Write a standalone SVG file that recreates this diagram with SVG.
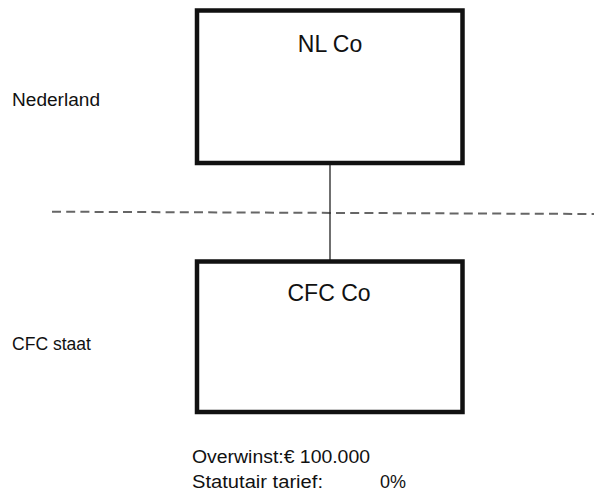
<svg xmlns="http://www.w3.org/2000/svg" width="597" height="493" viewBox="0 0 597 493">
<style>
.box{fill:#fff;stroke:#111;stroke-width:4.5}
.t{font-family:"Liberation Sans",Arial,sans-serif;fill:#111}
.title{font-size:23px;text-anchor:middle}
.lbl{font-size:17.5px}
</style>
<rect width="597" height="493" fill="#fff"/>
<line x1="52" y1="211.7" x2="594" y2="214" stroke="#666" stroke-width="2" stroke-dasharray="9,5.2"/>
<g id="connectors">
<line x1="330" y1="165" x2="330" y2="260" stroke="#222" stroke-width="1.3"/>
</g>
<g id="nlco">
<rect class="box" x="197" y="10.5" width="265.5" height="152.5"/>
<text class="t title" x="330" y="52">NL Co</text>
</g>
<g id="cfcco">
<rect class="box" x="197" y="261.5" width="265.5" height="150.5"/>
<text class="t title" x="329" y="301">CFC Co</text>
</g>
<text class="t lbl" x="12" y="105.5" textLength="88" lengthAdjust="spacingAndGlyphs">Nederland</text>
<text class="t lbl" x="12" y="349.5" textLength="79" lengthAdjust="spacingAndGlyphs">CFC staat</text>
<text class="t lbl" x="192" y="463" textLength="178" lengthAdjust="spacingAndGlyphs">Overwinst:€ 100.000</text>
<text class="t lbl" x="192" y="488" textLength="131" lengthAdjust="spacingAndGlyphs">Statutair tarief:</text>
<text class="t lbl" x="380" y="488" textLength="26" lengthAdjust="spacingAndGlyphs">0%</text>
</svg>
